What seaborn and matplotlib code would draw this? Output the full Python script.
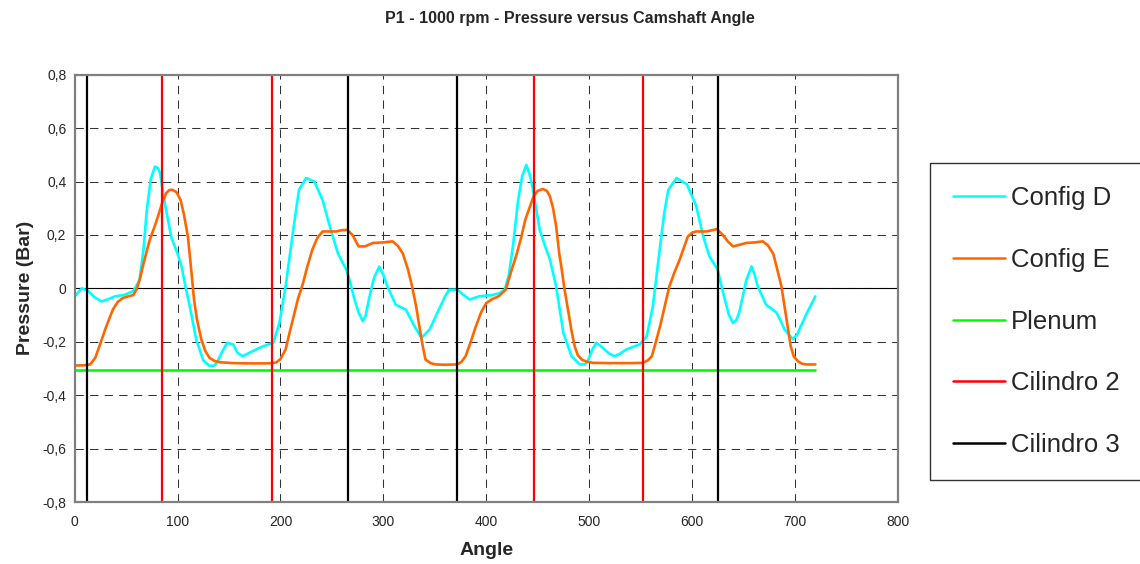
"""
P1 - 1000 rpm: presión vs ángulo de leva (Config D / Config E / Plenum)
"""
import numpy as np
import pandas as pd
import matplotlib
matplotlib.use("Agg")
import matplotlib.pyplot as plt
from matplotlib.ticker import FuncFormatter, MultipleLocator
import seaborn as sns

# ── data ────────────────────────────────────────────────────────────────────
D_ANGLE = [0, 7, 13, 20, 26, 33, 39, 48, 57, 63, 67, 70, 74, 78, 81, 83, 88, 94,
           100, 104, 108, 112, 118, 125, 131, 135, 138, 143, 148, 154, 158, 163,
           168, 173, 183, 193, 199, 205, 209, 212, 218, 225, 233, 241, 247, 252,
           256, 264, 268, 272, 276, 280, 283, 286, 291, 296, 300, 304, 312, 322,
           326, 330, 337, 341, 345, 354, 360, 364, 372, 378, 384, 393, 406, 413,
           418, 422, 426, 431, 435, 439, 442, 445, 452, 458, 462, 468, 475, 483,
           491, 496, 499, 503, 507, 511, 515, 520, 525, 530, 536, 549, 556, 562,
           569, 573, 577, 585, 595, 604, 611, 617, 625, 628, 632, 636, 640, 643,
           646, 653, 658, 661, 664, 672, 682, 686, 690, 698, 702, 706, 712, 720]
D_PRESS = [-0.03, 0.0, -0.01, -0.035, -0.049, -0.04, -0.03, -0.025, -0.01, 0.03,
           0.15, 0.29, 0.41, 0.456, 0.45, 0.43, 0.31, 0.19, 0.13, 0.08, 0.0,
           -0.07, -0.19, -0.27, -0.29, -0.29, -0.28, -0.24, -0.204, -0.21, -0.24,
           -0.254, -0.245, -0.235, -0.217, -0.204, -0.13, 0.007, 0.12, 0.207,
           0.369, 0.413, 0.40, 0.33, 0.245, 0.18, 0.13, 0.07, 0.02, -0.042, -0.09,
           -0.123, -0.10, -0.04, 0.04, 0.082, 0.05, 0.007, -0.061, -0.08, -0.11,
           -0.14, -0.185, -0.17, -0.154, -0.08, -0.03, -0.005, -0.005, -0.025,
           -0.042, -0.03, -0.025, -0.018, -0.005, 0.05, 0.157, 0.33, 0.42, 0.462,
           0.43, 0.38, 0.219, 0.15, 0.107, 0.007, -0.167, -0.254, -0.285, -0.285,
           -0.27, -0.23, -0.204, -0.215, -0.229, -0.245, -0.254, -0.245, -0.229,
           -0.21, -0.18, -0.067, 0.157, 0.28, 0.369, 0.413, 0.39, 0.31, 0.194,
           0.12, 0.07, 0.02, -0.042, -0.1, -0.13, -0.12, -0.09, 0.033, 0.082,
           0.05, 0.007, -0.061, -0.09, -0.12, -0.154, -0.19, -0.175, -0.14, -0.09,
           -0.03]

E_ANGLE = [0, 10, 15, 20, 24, 30, 37, 42, 47, 52, 57, 60, 63, 68, 73, 78, 82, 85,
           89, 92, 95, 99, 103, 106, 110, 113, 116, 119, 123, 127, 131, 136, 142,
           155, 170, 185, 192, 196, 200, 205, 208, 212, 217, 222, 226, 231, 236,
           241, 248, 254, 260, 265, 270, 276, 282, 290, 300, 309, 314, 319, 324,
           328, 332, 335, 338, 341, 346, 351, 360, 372, 376, 380, 385, 390, 395,
           400, 406, 412, 419, 424, 429, 434, 438, 442, 446, 450, 455, 459, 462,
           465, 468, 471, 473, 476, 480, 483, 486, 489, 493, 498, 504, 520, 540,
           552, 557, 561, 565, 569, 574, 578, 583, 588, 592, 596, 600, 604, 614,
           620, 624, 630, 635, 640, 646, 653, 661, 669, 674, 679, 683, 687, 692,
           696, 699, 703, 707, 711, 720]
E_PRESS = [-0.289, -0.288, -0.285, -0.26, -0.217, -0.15, -0.08, -0.05, -0.036,
           -0.03, -0.025, -0.005, 0.03, 0.11, 0.182, 0.235, 0.282, 0.32, 0.357,
           0.368, 0.369, 0.36, 0.33, 0.28, 0.194, 0.08, -0.042, -0.12, -0.19,
           -0.235, -0.26, -0.272, -0.277, -0.28, -0.281, -0.281, -0.28, -0.277,
           -0.265, -0.229, -0.18, -0.117, -0.04, 0.02, 0.08, 0.145, 0.19, 0.213,
           0.213, 0.213, 0.218, 0.219, 0.2, 0.157, 0.157, 0.17, 0.172, 0.176,
           0.16, 0.13, 0.07, 0.007, -0.07, -0.142, -0.21, -0.267, -0.28, -0.285,
           -0.286, -0.285, -0.275, -0.254, -0.2, -0.142, -0.09, -0.055, -0.04,
           -0.03, -0.005, 0.06, 0.12, 0.19, 0.257, 0.3, 0.344, 0.365, 0.372,
           0.365, 0.344, 0.3, 0.232, 0.13, 0.082, 0.0, -0.092, -0.16, -0.217,
           -0.25, -0.267, -0.275, -0.279, -0.28, -0.28, -0.279, -0.27, -0.254,
           -0.2, -0.142, -0.06, 0.007, 0.06, 0.107, 0.15, 0.194, 0.208, 0.213,
           0.213, 0.218, 0.222, 0.2, 0.175, 0.157, 0.163, 0.17, 0.172, 0.176,
           0.16, 0.13, 0.07, 0.007, -0.117, -0.217, -0.255, -0.273, -0.282,
           -0.285, -0.285]

PLENUM_ANGLE = [0, 720]
PLENUM_PRESS = [-0.305, -0.305]

CIL2_ANGLES = [85, 192, 446, 552]
CIL3_ANGLES = [12, 266, 372, 625]

TITLE = "P1 - 1000 rpm - Pressure versus Camshaft Angle"

# ── style ──────────────────────────────────────────────────────────────────
sns.set_style("white")
plt.rcParams["font.family"] = ["Liberation Sans", "DejaVu Sans"]

series = [
    ("Config D", D_ANGLE, D_PRESS, "#00FFFF"),
    ("Config E", E_ANGLE, E_PRESS, "#FF6600"),
    ("Plenum", PLENUM_ANGLE, PLENUM_PRESS, "#00FF00"),
]

fig = plt.figure(figsize=(11.4, 5.64), dpi=100)
ax = fig.add_axes([74.7 / 1140, 1 - 502 / 564, 823 / 1140, 427.3 / 564])

# grid + eje en cero
ax.grid(True, color="#333333", linestyle=(0, (8, 6)), linewidth=0.75)
ax.set_axisbelow(True)
ax.axhline(0, color="black", linewidth=0.8, zorder=1.5)

for name, xs, ys, col in series:
    df = pd.DataFrame({"Angle": xs, "Pressure": ys})
    sns.lineplot(data=df, x="Angle", y="Pressure", color=col, linewidth=1.9,
                 label=name, sort=False, estimator=None, ax=ax, legend=False)

for i, a in enumerate(CIL2_ANGLES):
    ax.axvline(a, color="#FF0000", linewidth=1.6,
               label="Cilindro 2" if i == 0 else None)
for i, a in enumerate(CIL3_ANGLES):
    ax.axvline(a, color="black", linewidth=1.6,
               label="Cilindro 3" if i == 0 else None)

ax.set_xlim(0, 800)
ax.set_ylim(-0.8, 0.8)
ax.xaxis.set_major_locator(MultipleLocator(100))
ax.yaxis.set_major_locator(MultipleLocator(0.2))
ax.yaxis.set_major_formatter(FuncFormatter(
    lambda v, _: "0" if abs(v) < 1e-9 else f"{v:.1f}".replace(".", ",")))
ax.tick_params(axis="y", length=3, width=1, color="#555555", labelsize=10, pad=3)
ax.tick_params(axis="x", length=0, labelsize=10, pad=9)

for sp in ax.spines.values():
    sp.set_color("#808080")
    sp.set_linewidth(1.6)

ax.set_xlabel("Angle", fontsize=14, fontweight="bold")
ax.set_ylabel("Pressure (Bar)", fontsize=14, fontweight="bold")
ax.xaxis.set_label_coords(0.5, -(542 - 502) / 427.3)
ax.yaxis.set_label_coords(-41 / 823, 0.5)

fig.text(0.5, 1 - 19 / 564, TITLE, ha="center", va="center",
         fontsize=11.5, fontweight="bold")

handles, labels = ax.get_legend_handles_labels()
leg = fig.legend(handles, labels, loc="upper left",
                 bbox_to_anchor=(930 / 1140, 1 - 163 / 564),
                 borderaxespad=0, fontsize=18.5, frameon=True, fancybox=False,
                 handlelength=2.0, handletextpad=0.25, labelspacing=1.47,
                 borderpad=0.9)
leg.get_frame().set_edgecolor("black")
leg.get_frame().set_linewidth(1.0)
for h in leg.get_lines():
    h.set_linewidth(1.8)

fig.savefig("out.png", dpi=100)
plt.close(fig)
